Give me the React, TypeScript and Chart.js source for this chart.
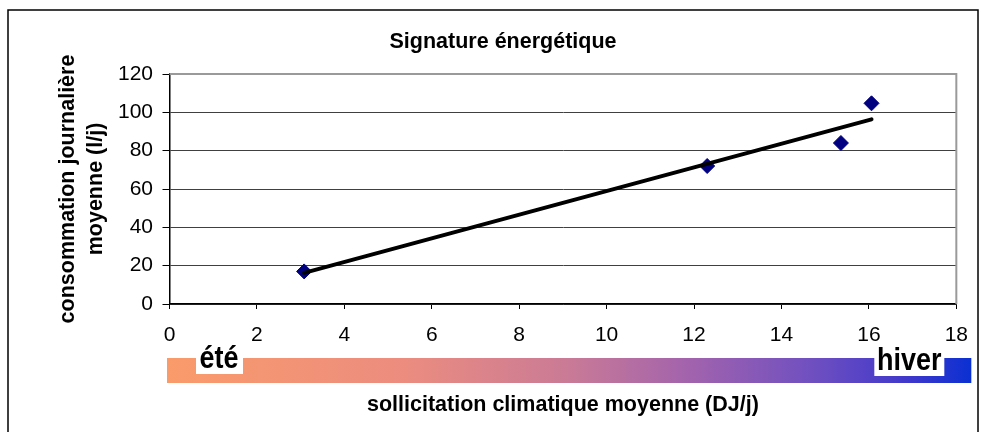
import React, { useEffect, useRef } from "react";
import { Chart, registerables } from "chart.js";

Chart.register(...registerables);

const chartTitle = "Signature énergétique";
const xAxisTitle = "sollicitation climatique moyenne (DJ/j)";
const yAxisTitle = ["consommation journalière", "moyenne (l/j)"];
const summerLabel = "été";
const winterLabel = "hiver";

const dd = [3.08, 12.3, 15.36, 16.06]; // sollicitation (DJ/j)
const conso = [17, 72, 84, 104.7]; // consommation (l/j)

const xMin = 0;
const xMax = 18;
const xStep = 2;
const yMin = 0;
const yMax = 120;
const yStep = 20;

function regression(xs: number[], ys: number[]) {
  const n = xs.length;
  const mx = xs.reduce((a, b) => a + b, 0) / n;
  const my = ys.reduce((a, b) => a + b, 0) / n;
  let sxy = 0;
  let sxx = 0;
  for (let i = 0; i < n; i++) {
    sxy += (xs[i] - mx) * (ys[i] - my);
    sxx += (xs[i] - mx) * (xs[i] - mx);
  }
  const slope = sxy / sxx;
  return { slope, intercept: my - slope * mx };
}

function drawLabel(ctx: any, text: string, cx: number, baseline: number) {
  ctx.save();
  ctx.translate(cx, baseline);
  ctx.scale(1, 1.15);
  ctx.fillText(text, 0, 0);
  ctx.restore();
}

const frame = {
  id: "frame",
  beforeDraw(chart: any) {
    const { ctx, width, height } = chart;
    ctx.save();
    ctx.fillStyle = "#ffffff";
    ctx.fillRect(0, 0, width, height);
    ctx.strokeStyle = "#000000";
    ctx.lineWidth = 1.5;
    ctx.strokeRect(8, 10, width - 4 - 8, height + 20);
    ctx.restore();
  },
  beforeDatasetsDraw(chart: any) {
    const { ctx, chartArea } = chart;
    ctx.save();
    ctx.strokeStyle = "#9a9a9a";
    ctx.lineWidth = 2;
    ctx.beginPath();
    ctx.moveTo(chartArea.left, chartArea.top);
    ctx.lineTo(chartArea.right, chartArea.top);
    ctx.lineTo(chartArea.right, chartArea.bottom);
    ctx.stroke();
    ctx.restore();
  },
  afterDraw(chart: any) {
    const { ctx, chartArea } = chart;
    const left = chartArea.left - 2.5;
    const right = chartArea.right + 15;
    const top = chartArea.bottom + 54;
    const h = 25;
    ctx.save();
    const g = ctx.createLinearGradient(left, 0, right, 0);
    g.addColorStop(0, "#fa9b6b");
    g.addColorStop(0.3, "#eb8c80");
    g.addColorStop(0.5, "#c97a96");
    g.addColorStop(0.65, "#a263ad");
    g.addColorStop(0.8, "#7050c0");
    g.addColorStop(0.92, "#4038cb");
    g.addColorStop(1, "#0a30d2");
    ctx.fillStyle = g;
    ctx.fillRect(left, top, right - left, h);

    ctx.font = 'bold 27px "Liberation Sans Narrow", "Liberation Sans", Arial, sans-serif';
    ctx.textAlign = "center";
    ctx.textBaseline = "alphabetic";

    // summer label
    ctx.fillStyle = "#ffffff";
    ctx.fillRect(left + 29, top - 10, 47, 26);
    ctx.fillStyle = "#000000";
    drawLabel(ctx, summerLabel, left + 52, top + 10);

    // winter label
    ctx.fillStyle = "#ffffff";
    ctx.fillRect(right - 97, top - 10, 70, 28);
    ctx.fillStyle = "#000000";
    drawLabel(ctx, winterLabel, right - 62, top + 12);
    ctx.restore();
  },
};

export default function App() {
  const ref = useRef<HTMLCanvasElement | null>(null);

  useEffect(() => {
    if (!ref.current) return;
    const { slope, intercept } = regression(dd, conso);
    const lo = Math.min(...dd);
    const hi = Math.max(...dd);
    const trend = [
      { x: lo, y: slope * lo + intercept },
      { x: hi, y: slope * hi + intercept },
    ];
    const points = dd.map((x, i) => ({ x, y: conso[i] }));

    const family = '"Liberation Sans", Arial, sans-serif';
    const tickFont = { family, size: 21 };
    const boldFont = { family, size: 21.5, weight: "bold" as const };

    const chart = new Chart(ref.current, {
      type: "scatter",
      data: {
        datasets: [
          {
            type: "line",
            label: "tendance",
            data: trend,
            borderColor: "#000000",
            borderWidth: 4,
            borderCapStyle: "round",
            pointRadius: 0,
            fill: false,
            order: 0,
          } as any,
          {
            label: "mesures",
            data: points,
            pointStyle: "rectRot",
            pointRadius: 7.5,
            backgroundColor: "#000080",
            borderColor: "#000080",
            borderWidth: 1,
            order: 1,
          },
        ],
      },
      options: {
        responsive: false,
        animation: false,
        layout: { padding: { left: 46, right: 22, top: 0, bottom: 0 } },
        plugins: {
          legend: { display: false },
          tooltip: { enabled: false },
          title: {
            display: true,
            text: chartTitle,
            color: "#000000",
            font: { ...boldFont, lineHeight: 1.2 },
            padding: { top: 29.5, bottom: 18.7 },
          },
        },
        scales: {
          x: {
            type: "linear",
            min: xMin,
            max: xMax,
            ticks: { stepSize: xStep, color: "#000000", font: tickFont, padding: 14 },
            grid: {
              drawOnChartArea: false,
              drawTicks: true,
              tickLength: 5,
              tickColor: "#000000",
              tickWidth: 1,
            },
            border: { color: "#000000", width: 1.5 },
            title: {
              display: true,
              text: xAxisTitle,
              color: "#000000",
              font: { ...boldFont, lineHeight: 1.2 },
              padding: { top: 0, bottom: 14.5 },
            },
            afterFit(scale: any) {
              scale.height = 128;
            },
          },
          y: {
            type: "linear",
            min: yMin,
            max: yMax,
            ticks: { stepSize: yStep, color: "#000000", font: tickFont, padding: 9.5 },
            grid: {
              color: (c: any) => (c.tick && c.tick.value === yMax ? "rgba(0,0,0,0)" : "#404040"),
              lineWidth: 1,
              drawTicks: true,
              tickLength: 7,
              tickColor: "#000000",
              tickWidth: 1,
            },
            border: { color: "#000000", width: 1.5 },
            title: {
              display: true,
              text: yAxisTitle,
              color: "#000000",
              font: { ...boldFont, lineHeight: 1.3 },
              padding: { top: 8, bottom: 0 },
            },
            afterFit(scale: any) {
              scale.width = 123.5;
            },
          },
        },
      },
      plugins: [frame],
    });
    return () => chart.destroy();
  }, []);

  return (
    <div style={{ position: "fixed", left: 0, top: 0, width: 982, height: 432, background: "#fff" }}>
      <canvas ref={ref} width={982} height={432} style={{ display: "block" }} />
    </div>
  );
}
